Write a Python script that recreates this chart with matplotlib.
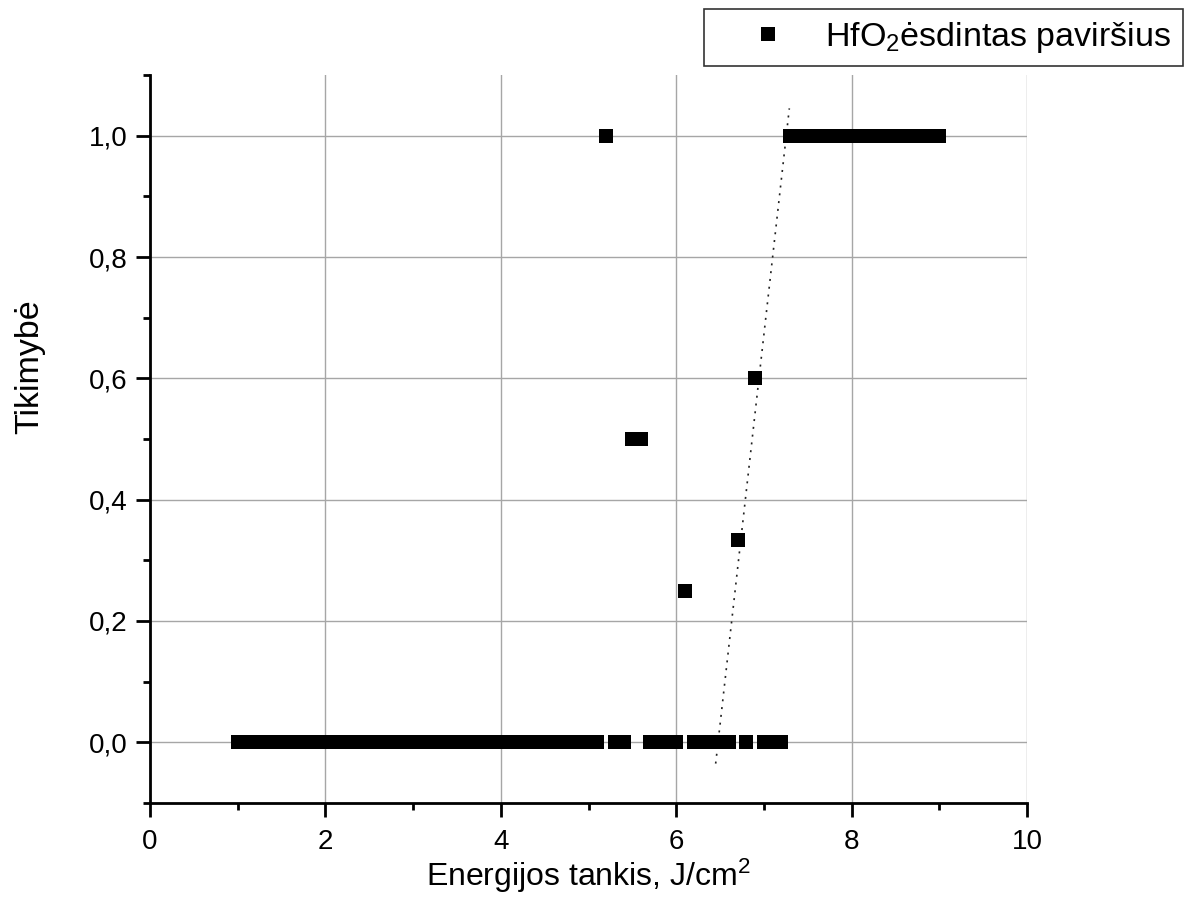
import matplotlib
matplotlib.use("Agg")
import matplotlib.pyplot as plt
from matplotlib.ticker import MultipleLocator, FixedLocator, FixedFormatter

plt.rcParams['font.family'] = ['Liberation Sans', 'DejaVu Sans']
plt.rcParams['mathtext.default'] = 'regular'

# ---- data ----
x_p0 = [1.0, 1.1, 1.2, 1.3, 1.4, 1.5, 1.6, 1.7, 1.8, 1.9,
        2.0, 2.1, 2.2, 2.3, 2.4, 2.5, 2.6, 2.7, 2.8, 2.9,
        3.0, 3.1, 3.2, 3.3, 3.4, 3.5, 3.6, 3.7, 3.8, 3.9,
        4.0, 4.1, 4.2, 4.3, 4.4, 4.5, 4.6, 4.7, 4.8, 4.9,
        5.0, 5.1, 5.3, 5.4, 5.7, 5.8, 5.9, 6.0,
        6.2, 6.3, 6.4, 6.5, 6.6, 6.8, 7.0, 7.1, 7.2]
y_p0 = [0.0] * len(x_p0)

x_mid = [5.2, 5.5, 5.6, 6.1, 6.7, 6.9]
y_mid = [1.0, 0.5, 0.5, 0.25, 0.333, 0.6]

x_p1 = [7.3, 7.4, 7.5, 7.6, 7.7, 7.8, 7.9, 8.0, 8.1, 8.2,
        8.3, 8.4, 8.5, 8.6, 8.7, 8.8, 8.9, 9.0]
y_p1 = [1.0] * len(x_p1)

fit_x = [6.45, 7.29]
fit_y = [-0.035, 1.045]

x_ticks = [0, 2, 4, 6, 8, 10]
x_ticklabels = ["0", "2", "4", "6", "8", "10"]
y_ticks = [0.0, 0.2, 0.4, 0.6, 0.8, 1.0]
y_ticklabels = ["0,0", "0,2", "0,4", "0,6", "0,8", "1,0"]

series_label = "HfO$_2$ėsdintas paviršius\u00a0"
x_label = "Energijos tankis, J/cm$^2$"
y_label = "Tikimybė"

# ---- figure ----
fig = plt.figure(figsize=(11.9, 9.15), dpi=100)
ax = fig.add_axes([150/1190, 1 - 803/915, (1027-150)/1190, (803-75)/915])

xs = x_p0 + x_mid + x_p1
ys = y_p0 + y_mid + y_p1

ax.plot(fit_x, fit_y, linestyle=(0, (1.2, 3.5)), color='#222222', lw=1.2, zorder=2)
ax.plot(xs, ys, linestyle='none', marker='s', markersize=10.4,
        markerfacecolor='black', markeredgecolor='black', markeredgewidth=0,
        label=series_label, zorder=3)

ax.set_xlim(0, 10)
ax.set_ylim(-0.1, 1.1)

ax.xaxis.set_major_locator(FixedLocator(x_ticks))
ax.xaxis.set_major_formatter(FixedFormatter(x_ticklabels))
ax.xaxis.set_minor_locator(MultipleLocator(1))
ax.yaxis.set_major_locator(FixedLocator(y_ticks))
ax.yaxis.set_major_formatter(FixedFormatter(y_ticklabels))
ax.yaxis.set_minor_locator(MultipleLocator(0.1))

for s in ['top', 'right']:
    ax.spines[s].set_visible(False)
for s in ['left', 'bottom']:
    ax.spines[s].set_linewidth(2)
    ax.spines[s].set_color('black')

ax.tick_params(which='major', direction='out', length=10, width=2, labelsize=20)
ax.tick_params(axis='x', which='major', pad=9)
ax.tick_params(axis='y', which='major', pad=6)
ax.tick_params(which='minor', direction='out', length=5, width=2)

ax.grid(True, which='major', color='#a6a6a6', lw=1.0)
ax.set_axisbelow(True)

ax.set_xlabel(x_label, fontsize=23, labelpad=1)
ax.set_ylabel(y_label, fontsize=24.5)
ax.yaxis.set_label_coords(-0.119, 0.60)

leg = fig.legend(loc='upper right', bbox_to_anchor=(1183/1190, 1 - 9/915),
                 fontsize=24.5, frameon=True, fancybox=False, edgecolor='black',
                 borderaxespad=0, handletextpad=0.12, borderpad=0.33,
                 handlelength=3.1, markerscale=1.0)
leg.get_frame().set_linewidth(1.2)

fig.savefig("out.png", dpi=100)
